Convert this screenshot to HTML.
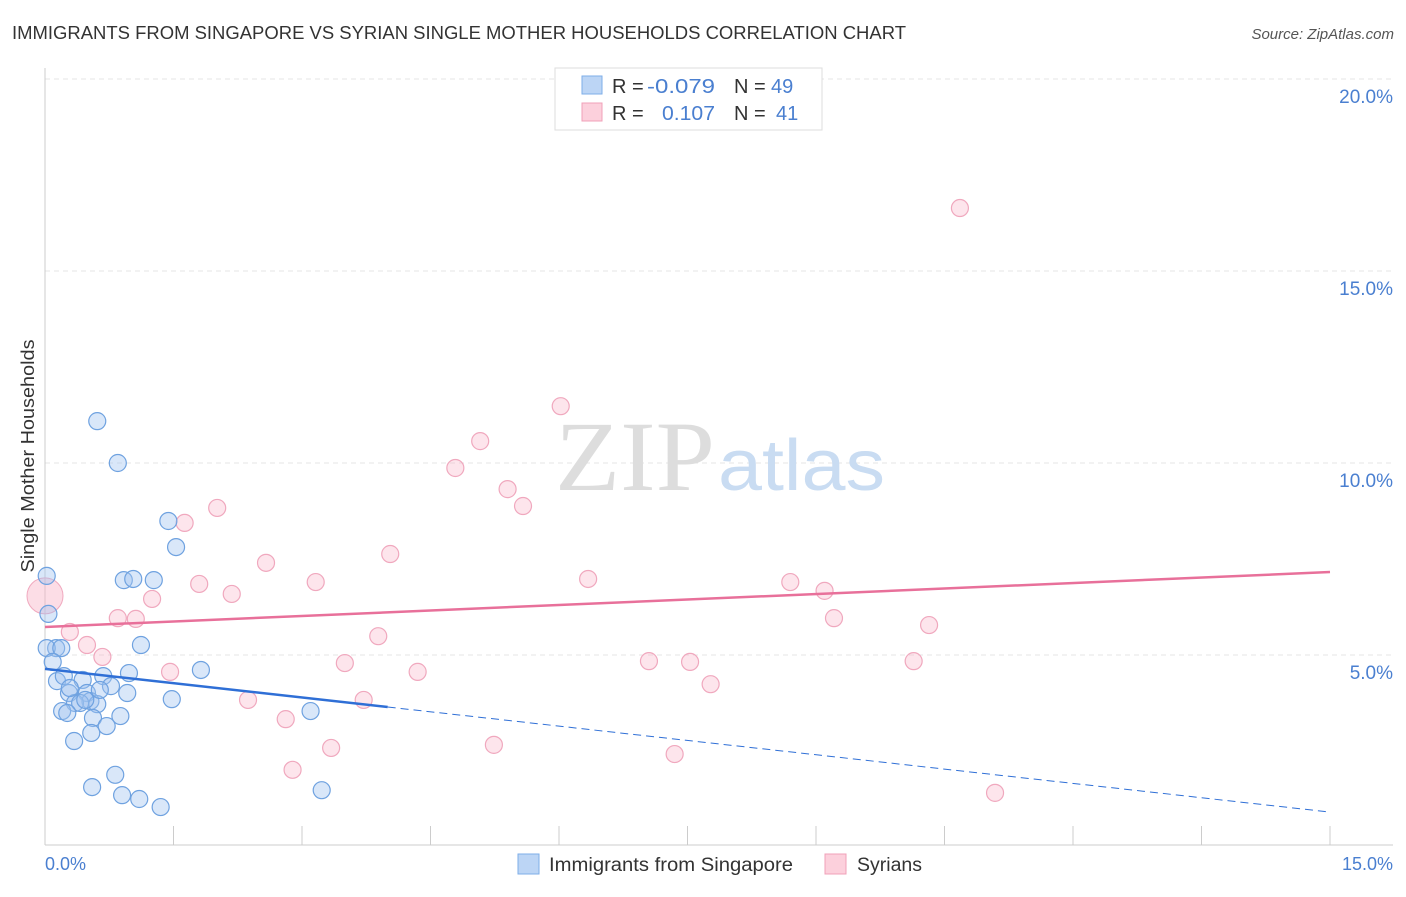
<!DOCTYPE html>
<html><head><meta charset="utf-8"><style>
body{margin:0;background:#fff;font-family:"Liberation Sans",sans-serif;}
svg text{font-family:"Liberation Sans",sans-serif;}
</style></head><body>
<svg id="chart" width="1406" height="892">
<text x="12" y="39" font-size="18" fill="#333" textLength="894" lengthAdjust="spacingAndGlyphs">IMMIGRANTS FROM SINGAPORE VS SYRIAN SINGLE MOTHER HOUSEHOLDS CORRELATION CHART</text>
<text x="1394" y="39" font-size="15" fill="#555" font-style="italic" text-anchor="end">Source: ZipAtlas.com</text>
<g id="grid"></g>
<text x="555" y="490" font-size="100" fill="#ddd" textLength="160" lengthAdjust="spacingAndGlyphs" style="font-family:'Liberation Serif',serif">ZIP</text>
<text x="718" y="490" font-size="72" fill="#c9dcf2" textLength="167" lengthAdjust="spacingAndGlyphs">atlas</text>
<line x1="45" y1="68" x2="45" y2="845" stroke="#ccc"/>
<line x1="45" y1="845" x2="1393" y2="845" stroke="#ccc"/>
<g id="xticks"></g>
<g id="yticks"></g>
<g id="pts"></g>
<g id="trends"></g>
<text x="45" y="870" font-size="18" fill="#4a7fd0">0.0%</text>
<text x="1393" y="870" font-size="18" fill="#4a7fd0" text-anchor="end">15.0%</text>
<text transform="translate(34,456) rotate(-90)" font-size="18" fill="#333" text-anchor="middle" textLength="233" lengthAdjust="spacingAndGlyphs">Single Mother Households</text>
<g>
<rect x="555" y="68" width="267" height="62" fill="#fff" stroke="#ddd"/>
<rect x="582" y="76" width="20" height="18" fill="#bcd5f5" stroke="#7eaee8"/>
<rect x="582" y="103" width="20" height="18" fill="#fcd0dc" stroke="#f0a0b8"/>
<text x="612" y="93" font-size="20" fill="#333">R =</text>
<text x="647" y="93" font-size="20" fill="#4a7fd0" textLength="68" lengthAdjust="spacingAndGlyphs">-0.079</text>
<text x="734" y="93" font-size="20" fill="#333">N =</text>
<text x="771" y="93" font-size="20" fill="#4a7fd0">49</text>
<text x="612" y="120" font-size="20" fill="#333">R =</text>
<text x="662" y="120" font-size="20" fill="#4a7fd0" textLength="53" lengthAdjust="spacingAndGlyphs">0.107</text>
<text x="734" y="120" font-size="20" fill="#333">N =</text>
<text x="776" y="120" font-size="20" fill="#4a7fd0">41</text>
</g>
<g>
<rect x="518" y="854" width="21" height="20" fill="#bcd5f5" stroke="#7eaee8"/>
<text x="549" y="871" font-size="19" fill="#333" textLength="244" lengthAdjust="spacingAndGlyphs">Immigrants from Singapore</text>
<rect x="825" y="854" width="21" height="20" fill="#fcd0dc" stroke="#f0a0b8"/>
<text x="857" y="871" font-size="19" fill="#333" textLength="65" lengthAdjust="spacingAndGlyphs">Syrians</text>
</g>
</svg>
<script>
const yTicks=[5,10,15,20];
const yTickLabels=["5.0%","10.0%","15.0%","20.0%"];
const xTicks=[0,1.5,3,4.5,6,7.5,9,10.5,12,13.5,15];
const blueX=[0.61,0.85,1.44,1.53,0.92,1.03,1.27,0.02,0.04,1.12,0.13,0.02,0.19,0.09,1.82,0.98,0.68,0.14,0.44,0.22,0.77,0.96,0.28,0.49,1.48,0.53,0.35,0.41,0.61,0.20,0.26,3.10,0.88,0.56,0.72,0.54,0.34,0.82,0.55,0.90,1.10,1.35,3.23,0.47,0.29,0.64];
const blueY=[11.09,10.0,8.49,7.81,6.95,6.98,6.95,7.06,6.07,5.26,5.18,5.18,5.18,4.82,4.61,4.53,4.45,4.32,4.35,4.45,4.19,4.01,4.01,4.01,3.85,3.80,3.75,3.75,3.72,3.54,3.49,3.54,3.41,3.36,3.15,2.97,2.76,1.88,1.56,1.35,1.25,1.04,1.48,3.83,4.14,4.09];
const pinkX=[10.68,6.02,5.08,4.79,5.40,5.58,2.01,1.63,4.03,2.58,6.34,1.80,3.16,2.18,8.70,9.10,1.25,0.85,1.06,9.21,10.32,0.29,3.89,0.49,0.67,3.50,7.05,7.53,10.14,4.35,1.46,7.77,2.37,3.72,2.81,3.34,5.24,7.35,2.89,11.09];
const pinkY=[16.64,11.48,10.57,9.87,9.32,8.88,8.83,8.44,7.63,7.40,6.98,6.85,6.90,6.59,6.90,6.67,6.46,5.96,5.94,5.96,5.78,5.60,5.49,5.26,4.95,4.79,4.84,4.82,4.84,4.56,4.56,4.24,3.83,3.83,3.33,2.58,2.66,2.42,2.01,1.41];
const bigPink=[0,6.54];
const pinkTrend=[5.73,7.16];
const blueTrend=[4.64,0.91];
const blueSolidEnd=4.0;
const NS="http://www.w3.org/2000/svg";
const sx=v=>45+v*(1285/15), sy=v=>847-v*38.4;
function mk(tag,parent,attrs){const e=document.createElementNS(NS,tag);for(const k in attrs)e.setAttribute(k,attrs[k]);parent.appendChild(e);return e;}
const grid=document.getElementById('grid'),yt=document.getElementById('yticks'),xt=document.getElementById('xticks');
yTicks.forEach((t,i)=>{
 const l=mk('line',grid,{x1:45,x2:1393,y1:sy(t),y2:sy(t),stroke:'#e4e4e4','stroke-dasharray':'5,4'});
 
 
 const tx=mk('text',yt,{x:1393,y:sy(t)+24,'font-size':19,fill:'#4a7fd0','text-anchor':'end'});
 tx.textContent=yTickLabels[i];
 
 
});
xTicks.forEach(t=>{
 const l=mk('line',xt,{x1:sx(t),x2:sx(t),y1:826,y2:845,stroke:'#ccc'});
 
 
});
const pts=document.getElementById('pts');
pinkX.forEach((x,i)=>{
 const c=mk('circle',pts,{cx:sx(x),cy:sy(pinkY[i]),r:8.5,fill:'rgba(248,180,200,0.35)',stroke:'#f0a8be','stroke-width':1.2});
 
 
});
const bp=mk('circle',pts,{cx:sx(bigPink[0]),cy:sy(bigPink[1]),r:18,fill:'rgba(248,180,200,0.45)',stroke:'#f0a8be'});


blueX.forEach((x,i)=>{
 const c=mk('circle',pts,{cx:sx(x),cy:sy(blueY[i]),r:8.5,fill:'rgba(160,196,240,0.4)',stroke:'#6fa2e0','stroke-width':1.2});
 
 
});
const tr=document.getElementById('trends');
const pl=mk('line',tr,{x1:sx(0),y1:sy(pinkTrend[0]),x2:sx(15),y2:sy(pinkTrend[1]),stroke:'#e8709a','stroke-width':2.5});


const bAt=x=>blueTrend[0]+(blueTrend[1]-blueTrend[0])*x/15;
const bl=mk('line',tr,{x1:sx(0),y1:sy(bAt(0)),x2:sx(blueSolidEnd),y2:sy(bAt(blueSolidEnd)),stroke:'#2f6fd6','stroke-width':2.5});


const bd=mk('line',tr,{x1:sx(blueSolidEnd),y1:sy(bAt(blueSolidEnd)),x2:sx(15),y2:sy(bAt(15)),stroke:'#2f6fd6','stroke-width':1,'stroke-dasharray':'8,5'});


</script>
</body></html>
